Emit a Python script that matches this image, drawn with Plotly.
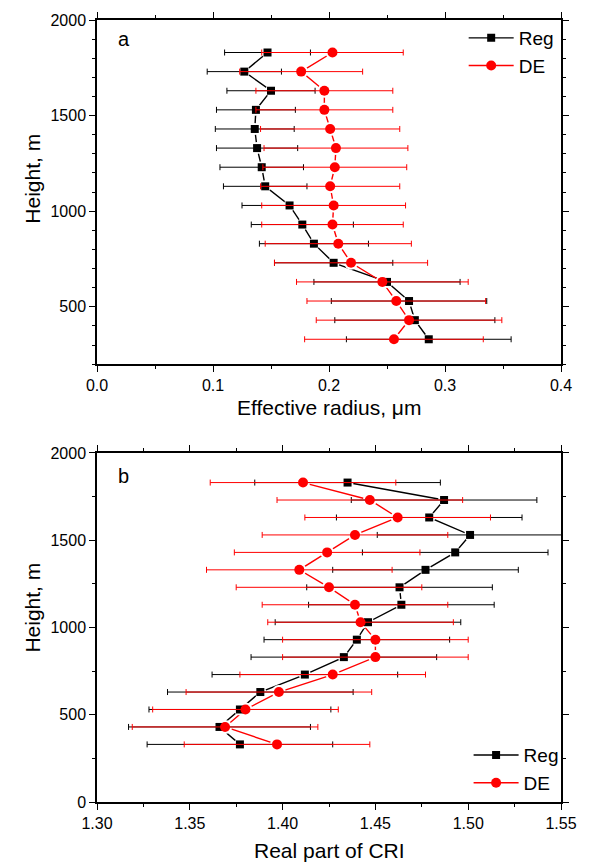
import plotly.graph_objects as go

# ---------------- data ----------------
heights = [1830, 1730, 1630, 1530, 1430, 1330, 1230, 1130, 1030, 930, 830, 730, 630, 530, 430, 330]

reff_reg = [0.147, 0.127, 0.150, 0.137, 0.136, 0.138, 0.142, 0.145, 0.166, 0.177, 0.187, 0.204, 0.250, 0.269, 0.274, 0.286]
reff_reg_err = [0.037, 0.032, 0.038, 0.034, 0.034, 0.035, 0.036, 0.036, 0.041, 0.044, 0.047, 0.051, 0.063, 0.067, 0.069, 0.071]
reff_de = [0.203, 0.176, 0.196, 0.196, 0.201, 0.206, 0.205, 0.201, 0.204, 0.203, 0.208, 0.219, 0.246, 0.258, 0.269, 0.256]
reff_de_err = [0.061, 0.053, 0.059, 0.059, 0.060, 0.062, 0.062, 0.060, 0.062, 0.061, 0.063, 0.066, 0.074, 0.077, 0.080, 0.077]

cri_reg = [1.435, 1.487, 1.479, 1.501, 1.493, 1.477, 1.463, 1.464, 1.446, 1.440, 1.433, 1.412, 1.388, 1.377, 1.366, 1.377]
cri_reg_err = [0.050, 0.050, 0.050, 0.050, 0.050, 0.050, 0.050, 0.050, 0.050, 0.050, 0.050, 0.050, 0.050, 0.049, 0.049, 0.050]
cri_de = [1.411, 1.447, 1.462, 1.439, 1.424, 1.409, 1.425, 1.439, 1.442, 1.450, 1.450, 1.427, 1.398, 1.380, 1.369, 1.397]
cri_de_err = [0.050, 0.050, 0.050, 0.050, 0.050, 0.050, 0.050, 0.050, 0.050, 0.050, 0.050, 0.050, 0.050, 0.050, 0.050, 0.050]

series_names = ["Reg", "DE"]
panel_labels = ["a", "b"]
x_titles = ["Effective radius, \u03bcm", "Real part of CRI"]
y_title = "Height, m"

# ---------------- styling ----------------
FONT = "Liberation Sans, Arial, sans-serif"
BLACK = "#000000"
RED = "#ff0000"
W, H = 589, 865
ML, MR, MT, MB = 97, 20, 18, 63
PW, PH = W - ML - MR, H - MT - MB


def px_x(p):
    return (p - ML) / PW


def px_y(p):
    return (H - MB - p) / PH


styles = {
    "Reg": dict(color=BLACK, symbol="square", size=8, gap=12),
    "DE": dict(color=RED, symbol="circle", size=10, gap=14),
}

panels = [
    dict(xa="x", ya="y", data=[("Reg", reff_reg, reff_reg_err), ("DE", reff_de, reff_de_err)]),
    dict(xa="x2", ya="y2", data=[("Reg", cri_reg, cri_reg_err), ("DE", cri_de, cri_de_err)]),
]

fig = go.Figure()

# layer 1: connecting lines
for p in panels:
    for name, vals, err in p["data"]:
        st = styles[name]
        fig.add_trace(go.Scatter(x=vals, y=heights, mode="lines", xaxis=p["xa"], yaxis=p["ya"],
                                 line=dict(color=st["color"], width=1.4), showlegend=False,
                                 hoverinfo="skip"))
# layer 2: white gaps around symbols
for p in panels:
    for name, vals, err in p["data"]:
        st = styles[name]
        fig.add_trace(go.Scatter(x=vals, y=heights, mode="markers", xaxis=p["xa"], yaxis=p["ya"],
                                 marker=dict(color="white", symbol="circle", size=st["gap"]),
                                 showlegend=False, hoverinfo="skip"))
# layer 3: error bars and symbols
for p in panels:
    for name, vals, err in p["data"]:
        st = styles[name]
        fig.add_trace(go.Scatter(x=vals, y=heights, mode="markers", xaxis=p["xa"], yaxis=p["ya"],
                                 marker=dict(color=st["color"], symbol=st["symbol"], size=st["size"],
                                             line=dict(width=0)),
                                 error_x=dict(type="data", array=err, visible=True, color=st["color"],
                                              thickness=1, width=3),
                                 showlegend=False))
# legend entries
for leg in ["legend", "legend2"]:
    for name in series_names:
        st = styles[name]
        fig.add_trace(go.Scatter(x=[None], y=[None], mode="lines+markers", name=name,
                                 xaxis="x" if leg == "legend" else "x2",
                                 yaxis="y" if leg == "legend" else "y2",
                                 line=dict(color=st["color"], width=1.4),
                                 marker=dict(color=st["color"], symbol=st["symbol"], size=st["size"]),
                                 legend=leg, showlegend=True))

dom_a = [px_y(363), 1.0]
dom_b = [0.0, px_y(452)]

axis_common = dict(showline=True, linecolor=BLACK, linewidth=1.5, mirror="ticks",
                   ticks="outside", ticklen=6, tickwidth=1.3, tickcolor=BLACK,
                   showgrid=False, zeroline=False,
                   tickfont=dict(family=FONT, size=16, color=BLACK))

fig.update_layout(
    width=W, height=H,
    margin=dict(l=ML, r=MR, t=MT, b=MB),
    paper_bgcolor="white", plot_bgcolor="white",
    font=dict(family=FONT, color=BLACK),
    xaxis=dict(anchor="y", domain=[0, 1], range=[0, 0.4], dtick=0.1, tick0=0, tickformat=".1f",
               minor=dict(dtick=0.05, ticks="outside", ticklen=3, tickcolor=BLACK, tickwidth=1.3),
               **axis_common),
    yaxis=dict(anchor="x", domain=dom_a, range=[200, 2000], dtick=500, tick0=0, tickformat="d",
               minor=dict(dtick=100, ticks="outside", ticklen=3, tickcolor=BLACK, tickwidth=1.3),
               **axis_common),
    xaxis2=dict(anchor="y2", domain=[0, 1], range=[1.30, 1.55], dtick=0.05, tick0=1.30, tickformat=".2f",
                minor=dict(dtick=0.025, ticks="outside", ticklen=3, tickcolor=BLACK, tickwidth=1.3),
                **axis_common),
    yaxis2=dict(anchor="x2", domain=dom_b, range=[0, 2000], dtick=500, tick0=0, tickformat="d",
                minor=dict(dtick=250, ticks="outside", ticklen=3, tickcolor=BLACK, tickwidth=1.3),
                **axis_common),
    legend=dict(x=px_x(470), y=px_y(17), xanchor="left", yanchor="top",
                font=dict(family=FONT, size=19, color=BLACK), bgcolor="rgba(0,0,0,0)",
                tracegroupgap=0, itemwidth=45),
    legend2=dict(x=px_x(475), y=px_y(736), xanchor="left", yanchor="top",
                 font=dict(family=FONT, size=19, color=BLACK), bgcolor="rgba(0,0,0,0)",
                 tracegroupgap=0, itemwidth=45),
    showlegend=True,
)

annotations = [
    dict(text=panel_labels[0], x=px_x(116), y=px_y(37), xanchor="left", yanchor="middle", size=20),
    dict(text=panel_labels[1], x=px_x(116), y=px_y(475), xanchor="left", yanchor="middle", size=20),
    dict(text=x_titles[0], x=0.5, y=px_y(406), xanchor="center", yanchor="middle", size=21),
    dict(text=x_titles[1], x=0.5, y=px_y(851), xanchor="center", yanchor="middle", size=21),
    dict(text=y_title, x=px_x(31), y=px_y(177), xanchor="center", yanchor="middle", size=21, angle=-90),
    dict(text=y_title, x=px_x(31), y=px_y(607), xanchor="center", yanchor="middle", size=21, angle=-90),
]
for a in annotations:
    fig.add_annotation(text=a["text"], x=a["x"], y=a["y"], xref="paper", yref="paper",
                       xanchor=a["xanchor"], yanchor=a["yanchor"], showarrow=False,
                       textangle=a.get("angle", 0),
                       font=dict(family=FONT, size=a["size"], color=BLACK))

fig.write_html("out.html", config={"displayModeBar": False},
               post_script="document.body.style.margin='0px';")
